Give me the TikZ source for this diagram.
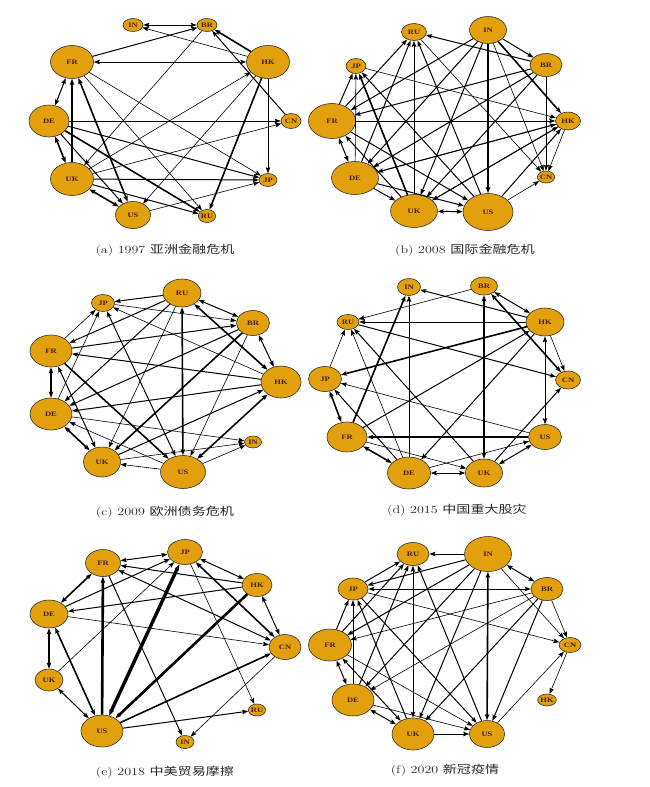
\documentclass[tikz,border=0pt]{standalone}
\usepackage{fontspec}
\usetikzlibrary{shapes.geometric,arrows.meta}
\newfontfamily\lblfont{Liberation Serif}
\newfontfamily\cjk{Noto Sans CJK SC}
\definecolor{nodecol}{RGB}{226,160,12}
\definecolor{labcol}{RGB}{70,30,40}
\definecolor{capcol}{RGB}{40,40,40}
\newcommand\mylbl[1]{\scalebox{1.25}[1]{#1}}
\newcommand\mkcap[2]{\scalebox{1.28}[1]{#1 {\cjk #2}}}
\tikzset{
  nd/.style={ellipse,draw=black!85,line width=0.55pt,fill=nodecol,inner sep=0pt,
    font=\lblfont\bfseries\fontsize{6.8}{7}\selectfont,text=labcol},
  t1/.style={line width=0.6pt},
  t2/.style={line width=1.0pt},
  t3/.style={line width=1.6pt},
  t4/.style={line width=2.6pt},
  >={Stealth[length=6pt,width=4.4pt,inset=1pt]},
  captxt/.style={font=\fontsize{11}{13}\selectfont,text=capcol}
}
\newcommand\mknode[6]{\node[nd,minimum width=#4pt,minimum height=#5pt] (#1) at (#2,#3) {\mylbl{#6}};}
\begin{document}
\begin{tikzpicture}[x=1pt,y=-1pt]
\useasboundingbox[fill=white] (0,0) rectangle (650,787);
% ---------------- panel a
\mknode{aIN}{133}{25}{20}{13}{IN}
\mknode{aBR}{207}{25}{20}{13}{BR}
\mknode{aFR}{72}{62}{43}{33}{FR}
\mknode{aHK}{268}{62}{43}{33}{HK}
\mknode{aDE}{49}{121}{40}{32}{DE}
\mknode{aCN}{291}{121}{20}{15}{CN}
\mknode{aUK}{72}{179}{43}{33}{UK}
\mknode{aJP}{268}{180}{18}{13}{JP}
\mknode{aUS}{133}{215}{35}{27}{US}
\mknode{aRU}{207}{216}{17}{13}{RU}
\draw[t2,<->] (aIN) -- (aBR);
\draw[t1,->] (aHK) -- (aIN);
\draw[t2,->] (aFR) -- (aBR);
\draw[t3,->] (aHK) -- (aBR);
\draw[t2,->] (aCN) -- (aBR);
\draw[t2,<->] (aFR) -- (aHK);
\draw[t1,->] (aBR) -- (aUK);
\draw[t1,->] (aUK) -- (aHK);
\draw[t1,->] (aHK) -- (aUS);
\draw[t3,->] (aHK) -- (aRU);
\draw[t1,->] (aHK) -- (aJP);
\draw[t1,->] (aFR) -- (aJP);
\draw[t1,->] (aFR) -- (aRU);
\draw[t1,->] (aDE) -- (aCN);
\draw[t2,->] (aDE) -- (aJP);
\draw[t3,->] (aDE) -- (aRU);
\draw[t2,<->] (aDE) -- (aFR);
\draw[t3,<->] (aDE) -- (aUK);
\draw[t4,->] (aUK) -- (aFR);
\draw[t3,<->] (aUS) -- (aFR);
\draw[t2,->] (aUK) -- (aJP);
\draw[t1,->] (aUK) -- (aCN);
\draw[t3,<->] (aUK) -- (aUS);
\draw[t2,->] (aUK) -- (aRU);
\draw[t1,->] (aUS) -- (aJP);
\draw[t2,->] (aDE) -- (aUS);
\node[captxt] (capa) at (165,250) {\mkcap{(a) 1997}{亚洲金融危机}};
% ---------------- panel b
\mknode{bRU}{414}{32}{25}{17}{RU}
\mknode{bIN}{488}{30}{37}{27}{IN}
\mknode{bJP}{356}{66}{20}{15}{JP}
\mknode{bBR}{546}{65}{32}{23}{BR}
\mknode{bFR}{332}{121}{47}{35}{FR}
\mknode{bHK}{568}{121}{25}{18}{HK}
\mknode{bDE}{355}{178}{47}{33}{DE}
\mknode{bCN}{546}{177}{17}{12}{CN}
\mknode{bUK}{414}{211}{47}{33}{UK}
\mknode{bUS}{488}{212}{50}{37}{US}
\draw[t2,->] (bBR) -- (bRU);
\draw[t3,->] (bIN) -- (bHK);
\draw[t2,->] (bIN) -- (bBR);
\draw[t4,->] (bIN) -- (bUS);
\draw[t1,->] (bIN) -- (bCN);
\draw[t2,->] (bIN) -- (bDE);
\draw[t2,->] (bIN) -- (bFR);
\draw[t2,->] (bIN) -- (bUK);
\draw[t1,->] (bJP) -- (bHK);
\draw[t2,->] (bFR) -- (bJP);
\draw[t1,->] (bDE) -- (bJP);
\draw[t3,->] (bUK) -- (bJP);
\draw[t2,->] (bUS) -- (bJP);
\draw[t1,->] (bFR) -- (bHK);
\draw[t2,<->] (bFR) -- (bDE);
\draw[t2,->] (bFR) -- (bUS);
\draw[t2,->] (bUK) -- (bFR);
\draw[t2,->] (bFR) -- (bRU);
\draw[t2,->] (bDE) -- (bRU);
\draw[t2,->] (bUK) -- (bRU);
\draw[t2,->] (bUS) -- (bRU);
\draw[t1,->] (bRU) -- (bCN);
\draw[t2,->] (bBR) -- (bFR);
\draw[t2,->] (bBR) -- (bDE);
\draw[t2,->] (bBR) -- (bUK);
\draw[t1,->] (bBR) -- (bCN);
\draw[t2,->] (bHK) -- (bDE);
\draw[t2,->] (bHK) -- (bUK);
\draw[t1,->] (bHK) -- (bCN);
\draw[t2,->] (bUS) -- (bHK);
\draw[t1,->] (bUS) -- (bCN);
\draw[t2,<->] (bUK) -- (bUS);
\draw[t2,->] (bDE) -- (bUK);
\draw[t2,->] (bDE) -- (bUS);
\draw[t1,->] (bUK) -- (bHK);
\draw[t1,->] (bDE) -- (bHK);
\node[captxt] (capb) at (465,250) {\mkcap{(b) 2008}{国际金融危机}};
% ---------------- panel c
\mknode{cJP}{103}{303}{23}{17}{JP}
\mknode{cRU}{182}{293}{38}{28}{RU}
\mknode{cBR}{253}{323}{33}{25}{BR}
\mknode{cFR}{51}{351}{42}{32}{FR}
\mknode{cHK}{281}{382}{40}{32}{HK}
\mknode{cDE}{51}{414}{42}{32}{DE}
\mknode{cIN}{253}{442}{17}{12}{IN}
\mknode{cUK}{102}{462}{37}{30}{UK}
\mknode{cUS}{183}{472}{45}{33}{US}
\draw[t2,->] (cRU) -- (cJP);
\draw[t1,->] (cJP) -- (cBR);
\draw[t1,->] (cHK) -- (cJP);
\draw[t2,<->] (cRU) -- (cBR);
\draw[t3,<->] (cRU) -- (cHK);
\draw[t2,<->] (cBR) -- (cHK);
\draw[t3,<->] (cRU) -- (cUS);
\draw[t2,->] (cRU) -- (cFR);
\draw[t2,->] (cRU) -- (cDE);
\draw[t1,->] (cRU) -- (cUK);
\draw[t1,->] (cFR) -- (cJP);
\draw[t1,->] (cDE) -- (cJP);
\draw[t3,<->] (cFR) -- (cDE);
\draw[t2,->] (cFR) -- (cBR);
\draw[t2,->] (cHK) -- (cFR);
\draw[t3,->] (cFR) -- (cUS);
\draw[t2,<->] (cFR) -- (cUK);
\draw[t2,<->] (cJP) -- (cUS);
\draw[t2,->] (cBR) -- (cDE);
\draw[t3,->] (cBR) -- (cUK);
\draw[t1,->] (cBR) -- (cUS);
\draw[t2,->] (cHK) -- (cDE);
\draw[t2,->] (cUK) -- (cHK);
\draw[t3,<->] (cUS) -- (cHK);
\draw[t1,->] (cDE) -- (cIN);
\draw[t3,<->] (cDE) -- (cUK);
\draw[t1,->] (cUS) -- (cUK);
\draw[t1,->] (cUS) -- (cDE);
\draw[t1,->] (cUS) -- (cIN);
\draw[t1,->] (cUK) -- (cIN);
\node[captxt] (capc) at (165,512) {\mkcap{(c) 2009}{欧洲债务危机}};
% ---------------- panel d
\mknode{dIN}{409}{287}{23}{17}{IN}
\mknode{dBR}{484}{286}{27}{18}{BR}
\mknode{dRU}{348}{322}{22}{15}{RU}
\mknode{dHK}{545}{322}{38}{28}{HK}
\mknode{dJP}{325}{379}{33}{25}{JP}
\mknode{dCN}{568}{380}{25}{18}{CN}
\mknode{dFR}{347}{437}{40}{30}{FR}
\mknode{dUS}{545}{437}{33}{25}{US}
\mknode{dDE}{409}{473}{43}{32}{DE}
\mknode{dUK}{484}{473}{37}{28}{UK}
\draw[t1,->] (dBR) -- (dRU);
\draw[t2,->] (dHK) -- (dIN);
\draw[t1,->] (dHK) -- (dRU);
\draw[t2,<->] (dBR) -- (dHK);
\draw[t3,<->] (dBR) -- (dCN);
\draw[t4,<->] (dBR) -- (dUK);
\draw[t2,->] (dDE) -- (dIN);
\draw[t3,->] (dFR) -- (dIN);
\draw[t1,->] (dJP) -- (dRU);
\draw[t1,->] (dDE) -- (dRU);
\draw[t2,->] (dUK) -- (dRU);
\draw[t2,->] (dRU) -- (dCN);
\draw[t3,->] (dHK) -- (dJP);
\draw[t2,->] (dFR) -- (dHK);
\draw[t2,->] (dHK) -- (dDE);
\draw[t2,<->] (dHK) -- (dUS);
\draw[t1,->] (dHK) -- (dCN);
\draw[t1,->] (dUS) -- (dJP);
\draw[t3,<->] (dFR) -- (dJP);
\draw[t2,->] (dDE) -- (dJP);
\draw[t3,->] (dUS) -- (dFR);
\draw[t3,<->] (dFR) -- (dDE);
\draw[t1,->] (dFR) -- (dUK);
\draw[t2,<->] (dDE) -- (dUK);
\draw[t1,->] (dDE) -- (dUS);
\draw[t2,->] (dUK) -- (dCN);
\draw[t2,<->] (dUK) -- (dUS);
\node[captxt] (capd) at (457,510) {\mkcap{(d) 2015}{中国重大股灾}};
% ---------------- panel e
\mknode{eJP}{185}{552}{35}{25}{JP}
\mknode{eFR}{103}{563}{35}{27}{FR}
\mknode{eHK}{257}{585}{30}{23}{HK}
\mknode{eDE}{49}{614}{38}{28}{DE}
\mknode{eCN}{285}{647}{32}{25}{CN}
\mknode{eUK}{49}{680}{28}{22}{UK}
\mknode{eRU}{257}{710}{17}{12}{RU}
\mknode{eUS}{102}{731}{42}{32}{US}
\mknode{eIN}{185}{742}{18}{13}{IN}
\draw[t2,<->] (eFR) -- (eJP);
\draw[t2,->] (eDE) -- (eJP);
\draw[t1,->] (eUK) -- (eJP);
\draw[t2,<->] (eJP) -- (eHK);
\draw[t3,<->] (eJP) -- (eCN);
\draw[t1,->] (eJP) -- (eRU);
\draw[t4,<->,line width=3.4pt] (eUS) -- (eJP);
\draw[t2,->] (eHK) -- (eFR);
\draw[t2,->] (eHK) -- (eDE);
\draw[t2,<->] (eHK) -- (eCN);
\draw[t4,->] (eHK) -- (eUS);
\draw[t2,<->] (eFR) -- (eCN);
\draw[t3,<->] (eFR) -- (eDE);
\draw[t2,->] (eFR) -- (eIN);
\draw[t4,->] (eUS) -- (eFR);
\draw[t1,->] (eDE) -- (eCN);
\draw[t3,<->] (eDE) -- (eUK);
\draw[t3,<->] (eDE) -- (eUS);
\draw[t2,<->] (eUK) -- (eUS);
\draw[t3,->] (eUS) -- (eCN);
\draw[t2,->] (eUS) -- (eRU);
\draw[t1,->] (eCN) -- (eIN);
\node[captxt] (cape) at (165,772) {\mkcap{(e) 2018}{中美贸易摩擦}};
% ---------------- panel f
\mknode{fRU}{413}{554}{32}{23}{RU}
\mknode{fIN}{488}{554}{47}{35}{IN}
\mknode{fJP}{353}{589}{30}{22}{JP}
\mknode{fBR}{547}{589}{32}{23}{BR}
\mknode{fFR}{330}{645}{43}{32}{FR}
\mknode{fCN}{570}{645}{22}{15}{CN}
\mknode{fDE}{353}{700}{42}{32}{DE}
\mknode{fHK}{547}{700}{17}{12}{HK}
\mknode{fUK}{413}{734}{42}{32}{UK}
\mknode{fUS}{487}{734}{35}{27}{US}
\draw[t2,->] (fIN) -- (fRU);
\draw[t2,->] (fIN) -- (fJP);
\draw[t2,->] (fJP) -- (fRU);
\draw[t2,<->] (fIN) -- (fBR);
\draw[t1,->] (fIN) -- (fCN);
\draw[t2,->] (fIN) -- (fFR);
\draw[t2,->] (fIN) -- (fDE);
\draw[t2,->] (fIN) -- (fUK);
\draw[t3,<->] (fIN) -- (fUS);
\draw[t2,->] (fFR) -- (fRU);
\draw[t2,->] (fDE) -- (fRU);
\draw[t2,<->] (fRU) -- (fUK);
\draw[t2,->] (fUS) -- (fRU);
\draw[t2,<->] (fJP) -- (fBR);
\draw[t1,->] (fJP) -- (fCN);
\draw[t2,->] (fFR) -- (fJP);
\draw[t1,->] (fDE) -- (fJP);
\draw[t2,->] (fUK) -- (fJP);
\draw[t2,->] (fJP) -- (fUS);
\draw[t1,->] (fBR) -- (fFR);
\draw[t1,->] (fBR) -- (fDE);
\draw[t2,->] (fBR) -- (fUK);
\draw[t2,->] (fBR) -- (fUS);
\draw[t1,->] (fBR) -- (fCN);
\draw[t1,->] (fCN) -- (fHK);
\draw[t1,->] (fUS) -- (fCN);
\draw[t2,<->] (fFR) -- (fDE);
\draw[t2,<->] (fFR) -- (fUK);
\draw[t1,->] (fFR) -- (fUS);
\draw[t2,<->] (fDE) -- (fUK);
\draw[t1,->] (fDE) -- (fUS);
\draw[t1,->] (fUK) -- (fUS);
\node[captxt] (capf) at (445,770) {\mkcap{(f) 2020}{新冠疫情}};
\end{tikzpicture}
\end{document}
